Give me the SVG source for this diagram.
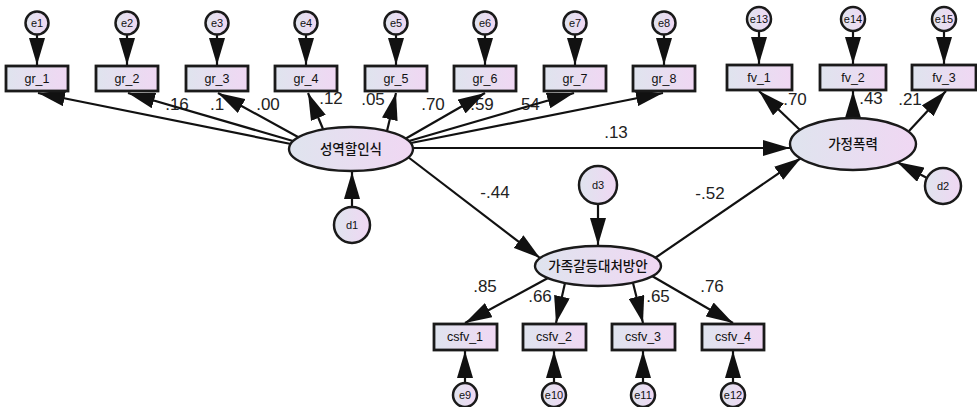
<svg xmlns="http://www.w3.org/2000/svg" width="977" height="407" viewBox="0 0 977 407">
  <defs>
    <linearGradient id="fillGrad" x1="0" y1="0" x2="1" y2="0">
      <stop offset="0" stop-color="#dfe4ee"/>
      <stop offset="1" stop-color="#f0d7f3"/>
    </linearGradient>
    <marker id="ah" viewBox="0 0 27 16" refX="27" refY="8" markerWidth="27" markerHeight="16" markerUnits="userSpaceOnUse" orient="auto">
      <path d="M0,0 L27,8 L0,16 z" fill="#111"/>
    </marker>
    <style>
      .box { fill: url(#fillGrad); stroke: #1a1a1a; stroke-width: 2.8; }
      .lat { fill: url(#fillGrad); stroke: #1a1a1a; stroke-width: 2.4; }
      .err { fill: url(#fillGrad); stroke: #1a1a1a; stroke-width: 2.5; }
      .obs { font-family: "Liberation Sans", Arial, sans-serif; font-size: 12.5px; fill: #111; text-anchor: middle; }
      .etx { font-family: "Liberation Sans", Arial, sans-serif; font-size: 11px; fill: #111; text-anchor: middle; }
      .ktx { font-family: "Noto Sans CJK KR", sans-serif; font-size: 13.5px; font-weight: 500; fill: #111; text-anchor: middle; }
      .coef { font-family: "Liberation Sans", Arial, sans-serif; font-size: 17px; fill: #222; text-anchor: middle; }
      .conn line { stroke: #111; stroke-width: 2.2; marker-end: url(#ah); }
    </style>
  </defs>

  <!-- standardized estimates (drawn beneath the paths) -->
  <g id="estimates" class="coef">
    <text x="177" y="110">.16</text>
    <text x="210" y="110" text-anchor="start">.1</text>
    <text x="268" y="110">.00</text>
    <text x="331" y="104">.12</text>
    <text x="373" y="105">.05</text>
    <text x="433" y="110">.70</text>
    <text x="482" y="110">.59</text>
    <text x="528" y="110">.54</text>
    <text x="616" y="138">.13</text>
    <text x="495" y="198">-.44</text>
    <text x="710" y="199">-.52</text>
    <text x="795" y="105">.70</text>
    <text x="871" y="104">.43</text>
    <text x="910" y="105">.21</text>
    <text x="485" y="292">.85</text>
    <text x="540" y="302">.66</text>
    <text x="658" y="302">.65</text>
    <text x="712" y="292">.76</text>
  </g>

  <!-- paths and error arrows -->
  <g id="connectors" class="conn">
    <!-- e1..e8 to gr items -->
    <line x1="37" y1="35" x2="37" y2="65"/>
    <line x1="127" y1="35" x2="127" y2="65"/>
    <line x1="217" y1="35" x2="217" y2="65"/>
    <line x1="306" y1="35" x2="306" y2="65"/>
    <line x1="396" y1="35" x2="396" y2="65"/>
    <line x1="485" y1="35" x2="485" y2="65"/>
    <line x1="575" y1="35" x2="575" y2="65"/>
    <line x1="664" y1="35" x2="664" y2="65"/>
    <!-- e13..e15 to fv items -->
    <line x1="759" y1="31" x2="759" y2="64"/>
    <line x1="853" y1="31" x2="853" y2="64"/>
    <line x1="944" y1="31" x2="944" y2="64"/>
    <!-- e9..e12 to csfv items -->
    <line x1="465" y1="383" x2="465" y2="351"/>
    <line x1="554" y1="383" x2="554" y2="351"/>
    <line x1="643" y1="383" x2="643" y2="351"/>
    <line x1="733" y1="383" x2="733" y2="351"/>
    <!-- 성역할인식 loadings -->
    <line x1="291" y1="144" x2="38" y2="93"/>
    <line x1="293" y1="141" x2="128" y2="93"/>
    <line x1="298" y1="137" x2="218" y2="93"/>
    <line x1="323" y1="129" x2="308" y2="93"/>
    <line x1="387" y1="131" x2="396" y2="93"/>
    <line x1="405" y1="139" x2="485" y2="93"/>
    <line x1="409" y1="141" x2="574" y2="93"/>
    <line x1="411" y1="143" x2="663" y2="93"/>
    <!-- structural paths -->
    <line x1="413" y1="148" x2="790" y2="148"/>
    <line x1="408" y1="157" x2="540" y2="258"/>
    <line x1="655" y1="258" x2="801" y2="158"/>
    <!-- disturbances -->
    <line x1="352" y1="207" x2="352" y2="172"/>
    <line x1="927" y1="178" x2="897" y2="162"/>
    <line x1="598" y1="204" x2="598" y2="245"/>
    <!-- 가정폭력 loadings -->
    <line x1="800" y1="130" x2="759" y2="91"/>
    <line x1="853" y1="118" x2="853" y2="91"/>
    <line x1="909" y1="131" x2="946" y2="91"/>
    <!-- 가족갈등대처방안 loadings -->
    <line x1="548" y1="278" x2="465" y2="323"/>
    <line x1="565" y1="283" x2="556" y2="323"/>
    <line x1="633" y1="283" x2="643" y2="323"/>
    <line x1="652" y1="276" x2="733" y2="323"/>
  </g>

  <!-- observed variables: gr -->
  <g id="gr_1"><rect class="box" x="6" y="66" width="62" height="25"/><text class="obs" x="37" y="83">gr_1</text></g>
  <g id="gr_2"><rect class="box" x="96" y="66" width="62" height="25"/><text class="obs" x="127" y="83">gr_2</text></g>
  <g id="gr_3"><rect class="box" x="186" y="66" width="62" height="25"/><text class="obs" x="217" y="83">gr_3</text></g>
  <g id="gr_4"><rect class="box" x="275" y="66" width="62" height="25"/><text class="obs" x="306" y="83">gr_4</text></g>
  <g id="gr_5"><rect class="box" x="365" y="66" width="62" height="25"/><text class="obs" x="396" y="83">gr_5</text></g>
  <g id="gr_6"><rect class="box" x="454" y="66" width="62" height="25"/><text class="obs" x="485" y="83">gr_6</text></g>
  <g id="gr_7"><rect class="box" x="544" y="66" width="62" height="25"/><text class="obs" x="575" y="83">gr_7</text></g>
  <g id="gr_8"><rect class="box" x="633" y="66" width="62" height="25"/><text class="obs" x="664" y="83">gr_8</text></g>

  <!-- observed variables: fv -->
  <g id="fv_1"><rect class="box" x="727" y="65" width="65" height="25"/><text class="obs" x="759" y="82">fv_1</text></g>
  <g id="fv_2"><rect class="box" x="820" y="65" width="66" height="25"/><text class="obs" x="853" y="82">fv_2</text></g>
  <g id="fv_3"><rect class="box" x="912" y="65" width="64" height="25"/><text class="obs" x="944" y="82">fv_3</text></g>

  <!-- observed variables: csfv -->
  <g id="csfv_1"><rect class="box" x="434" y="324" width="63" height="26"/><text class="obs" x="465" y="341">csfv_1</text></g>
  <g id="csfv_2"><rect class="box" x="523" y="324" width="63" height="26"/><text class="obs" x="554" y="341">csfv_2</text></g>
  <g id="csfv_3"><rect class="box" x="612" y="324" width="63" height="26"/><text class="obs" x="643" y="341">csfv_3</text></g>
  <g id="csfv_4"><rect class="box" x="702" y="324" width="62" height="26"/><text class="obs" x="733" y="341">csfv_4</text></g>

  <!-- latent variables -->
  <g id="gender_role"><ellipse class="lat" cx="351" cy="149" rx="62" ry="22"/><text class="ktx" x="351" y="154">성역할인식</text></g>
  <g id="family_violence"><ellipse class="lat" cx="853" cy="144" rx="63" ry="26"/><text class="ktx" x="853" y="149">가정폭력</text></g>
  <g id="conflict_coping"><ellipse class="lat" cx="598" cy="266" rx="63" ry="20"/><text class="ktx" x="598" y="271">가족갈등대처방안</text></g>

  <!-- disturbances -->
  <g id="d1"><circle class="err" cx="352" cy="225" r="18"/><text class="etx" x="352" y="229">d1</text></g>
  <g id="d2"><circle class="err" cx="943" cy="186" r="18"/><text class="etx" x="943" y="190">d2</text></g>
  <g id="d3"><circle class="err" cx="598" cy="185" r="19"/><text class="etx" x="598" y="189">d3</text></g>

  <!-- measurement errors -->
  <g id="e1"><circle class="err" cx="37" cy="23" r="11.5"/><text class="etx" x="37" y="27">e1</text></g>
  <g id="e2"><circle class="err" cx="127" cy="23" r="11.5"/><text class="etx" x="127" y="27">e2</text></g>
  <g id="e3"><circle class="err" cx="217" cy="23" r="11.5"/><text class="etx" x="217" y="27">e3</text></g>
  <g id="e4"><circle class="err" cx="306" cy="23" r="11.5"/><text class="etx" x="306" y="27">e4</text></g>
  <g id="e5"><circle class="err" cx="396" cy="23" r="11.5"/><text class="etx" x="396" y="27">e5</text></g>
  <g id="e6"><circle class="err" cx="485" cy="23" r="11.5"/><text class="etx" x="485" y="27">e6</text></g>
  <g id="e7"><circle class="err" cx="575" cy="23" r="11.5"/><text class="etx" x="575" y="27">e7</text></g>
  <g id="e8"><circle class="err" cx="664" cy="23" r="11.5"/><text class="etx" x="664" y="27">e8</text></g>
  <g id="e13"><circle class="err" cx="759" cy="19" r="12"/><text class="etx" x="759" y="23">e13</text></g>
  <g id="e14"><circle class="err" cx="853" cy="19" r="12"/><text class="etx" x="853" y="23">e14</text></g>
  <g id="e15"><circle class="err" cx="944" cy="19" r="12"/><text class="etx" x="944" y="23">e15</text></g>
  <g id="e9"><circle class="err" cx="465" cy="395" r="12"/><text class="etx" x="465" y="399">e9</text></g>
  <g id="e10"><circle class="err" cx="554" cy="395" r="12"/><text class="etx" x="554" y="399">e10</text></g>
  <g id="e11"><circle class="err" cx="643" cy="395" r="12"/><text class="etx" x="643" y="399">e11</text></g>
  <g id="e12"><circle class="err" cx="733" cy="395" r="12"/><text class="etx" x="733" y="399">e12</text></g>
</svg>
